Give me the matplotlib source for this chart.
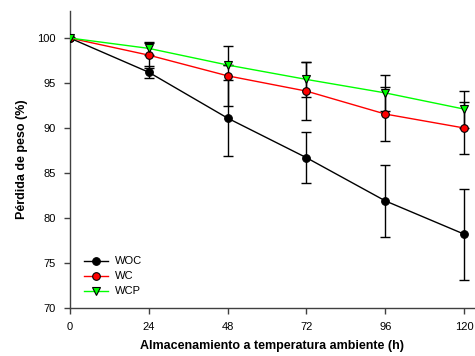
import matplotlib
matplotlib.use("Agg")
import matplotlib.pyplot as plt

plt.rcParams['font.family'] = ['Liberation Sans', 'DejaVu Sans']

hours = [0, 24, 48, 72, 96, 120]
woc = [100.0, 96.2, 91.1, 86.7, 81.9, 78.2]
woc_err = [0.0, 0.65, 4.2, 2.85, 4.0, 5.05]
wc = [100.0, 98.1, 95.8, 94.1, 91.55, 90.0]
wc_err = [0.0, 1.4, 3.3, 3.2, 3.0, 2.9]
wcp = [100.0, 98.85, 97.0, 95.4, 93.9, 92.1]
wcp_err = [0.0, 0.75, 0.0, 1.9, 2.0, 2.05]

fig = plt.figure(figsize=(4.75, 3.56), dpi=100)
ax = fig.add_axes([0.147, 0.135, 0.853, 0.834])

series = [
    ("WOC", woc, woc_err, "black", "o", "black"),
    ("WC", wc, wc_err, "red", "o", "red"),
    ("WCP", wcp, wcp_err, "#00ff00", "v", "#00ff00"),
]
for name, vals, err, col, mk, fc in series:
    ax.errorbar(hours, vals, yerr=err, fmt="none", ecolor="black",
                elinewidth=1, capsize=3.5, capthick=1, zorder=2)
    ax.plot(hours, vals, color=col, lw=1, marker=mk, markersize=5.5,
            markerfacecolor=fc, markeredgecolor="black", markeredgewidth=0.8,
            label=name, zorder=3)

ax.set_xlim(0, 123.3)
ax.set_ylim(70, 103)
ax.set_xticks(hours)
ax.set_yticks([70, 75, 80, 85, 90, 95, 100])
for s in ["top", "right"]:
    ax.spines[s].set_visible(False)
for s in ["left", "bottom"]:
    ax.spines[s].set_color("#404040")
    ax.spines[s].set_linewidth(1)
ax.tick_params(direction="out", length=4, width=1, color="#404040",
               labelsize=8, pad=6)

ax.set_xlabel("Almacenamiento a temperatura ambiente (h)", fontsize=9,
              fontweight="bold", labelpad=6)
ax.set_ylabel("Pérdida de peso (%)", fontsize=9, fontweight="bold", labelpad=7)

ax.legend(loc="lower left", bbox_to_anchor=(0.01, 0.005), frameon=False,
          fontsize=8, handlelength=2.2, handletextpad=0.6, labelspacing=0.45)

fig.savefig("out.png", dpi=100)
